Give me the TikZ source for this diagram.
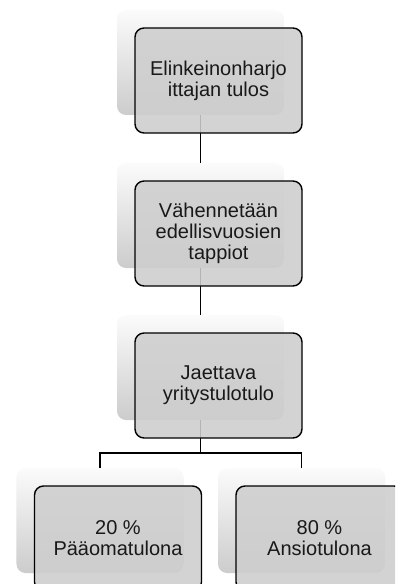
\documentclass[tikz,border=0pt]{standalone}
\usepackage{fontspec}
\setmainfont{Liberation Sans}
\definecolor{frontfill}{RGB}{206,206,206}
\definecolor{txt}{RGB}{25,25,25}
\begin{document}
\begin{tikzpicture}[x=1bp,y=-1bp,
  backbox/.style={minimum width=167bp,minimum height=105bp,rounded corners=9bp,
    top color=white!97!gray,bottom color=gray!40,inner sep=0pt,draw=none},
  frontbox/.style={minimum width=167bp,minimum height=105bp,rounded corners=9bp,
    fill=frontfill,fill opacity=0.88,text opacity=1,draw=black,line width=1.4bp,
    inner sep=0pt,align=center,text=txt,
    font=\fontsize{20bp}{21bp}\selectfont},
  conn/.style={draw=black,line width=1.4bp}]
\useasboundingbox (0,0) rectangle (395,584);
\clip (0,0) rectangle (395,584);
\fill[white] (0,0) rectangle (395,584);
% back boxes
\node[backbox] (b1) at (200.5,62.5) {};
\node[backbox] (b2) at (200.5,215.5) {};
\node[backbox] (b3) at (200.5,367.5) {};
\node[backbox] (b4) at (100,520.5) {};
\node[backbox] (b5) at (301.5,520.5) {};
% connectors
\coordinate (j) at (200.5,453);
\draw[conn] (b1.south) -- (b2.north);
\draw[conn] (b2.south) -- (b3.north);
\draw[conn] (b3.south) -- (j);
\draw[conn] (j) -| (b4.north);
\draw[conn] (j) -| (b5.north);
% front boxes
\node[frontbox] (f1) at (218.5,80.5) {Elinkeinonharjo\\ittajan tulos};
\node[frontbox] (f2) at (218.5,233.5) {Vähennetään\\edellisvuosien\\tappiot};
\node[frontbox] (f3) at (218.5,385.5) {Jaettava\\yritystulotulo};
\node[frontbox] (f4) at (118,538.5) {20 \%\\Pääomatulona};
\node[frontbox] (f5) at (319.5,538.5) {80 \%\\Ansiotulona};
\end{tikzpicture}
\end{document}
